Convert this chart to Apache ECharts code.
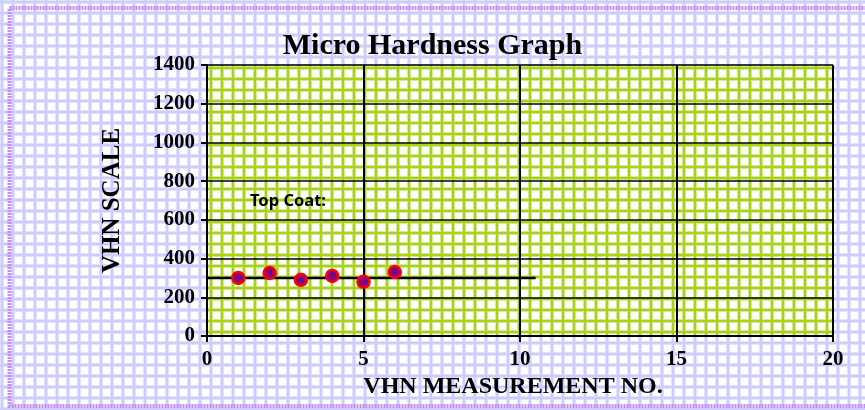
<!DOCTYPE html>
<html>
<head>
<meta charset="utf-8">
<script src="https://cdn.jsdelivr.net/npm/echarts@6/dist/echarts.min.js"></script>
<style>
html,body{margin:0;padding:0;background:#fff;}
#main{width:865px;height:410px;}
</style>
</head>
<body>
<div id="main"></div>
<script>
/* data */
var measureNo = [1, 2, 3, 4, 5, 6];
var vhnValues = [300, 325, 290, 310, 280, 330];
var refLineX = [0, 10.5];
var refLineY = [300, 300];
var xTicks = [0, 20, 5];      // min, max, interval
var yTicks = [0, 1400, 200];

/* background patterns like the excel paper fill */
function makePattern(line, edge){
    var c = document.createElement('canvas');
    c.width = 11; c.height = 11;
    var ctx = c.getContext('2d');
    ctx.fillStyle = '#fff';
    ctx.fillRect(0, 0, 11, 11);
    ctx.fillStyle = edge;
    ctx.fillRect(0, 0, 4, 11);
    ctx.fillRect(0, 0, 11, 4);
    ctx.fillStyle = line;
    ctx.fillRect(1, 0, 2, 11);
    ctx.fillRect(0, 1, 11, 2);
    return c;
}
var paperBg = makePattern('#ccccff', '#e2e2ff');
var plotBg = makePattern('#a6d21c', '#d4ea90');

var scatterData = measureNo.map(function(x, i){ return [x, vhnValues[i]]; });
var lineData = refLineX.map(function(x, i){ return [x, refLineY[i]]; });

var serif = '"Liberation Serif", "Times New Roman", serif';

var option = {
    animation: false,
    backgroundColor: '#fff',
    title: {
        text: 'Micro Hardness Graph',
        left: 'center',
        top: 26,
        textStyle: {
            fontFamily: serif,
            fontWeight: 'bold',
            fontSize: 30,
            color: '#000'
        }
    },
    graphic: [
        {
            type: 'rect',
            z: -10,
            silent: true,
            shape: {x: 0, y: 0, width: 865, height: 410},
            style: {fill: {image: paperBg, repeat: 'repeat'}}
        },
        {
            type: 'rect',
            z: -9,
            silent: true,
            shape: {x: 9.5, y: 8, width: 880, height: 398},
            style: {fill: null, stroke: '#c58cf2', lineWidth: 4, lineDash: [2, 1]}
        },
        {
            type: 'text',
            left: 250,
            top: 193,
            z: 10,
            style: {
                text: 'Top Coat:',
                fontFamily: '"Noto Sans", "Open Sans", sans-serif',
                fontWeight: 'bold',
                fontSize: 16.5,
                fill: '#000'
            }
        }
    ],
    grid: {
        left: 207,
        right: 32,
        top: 65,
        bottom: 74,
        show: true,
        backgroundColor: {image: plotBg, repeat: 'repeat'},
        borderColor: '#8db4e2',
        borderWidth: 1
    },
    xAxis: {
        type: 'value',
        min: xTicks[0],
        max: xTicks[1],
        interval: xTicks[2],
        name: 'VHN MEASUREMENT NO.',
        nameLocation: 'middle',
        nameGap: 32,
        nameTextStyle: {
            fontFamily: serif,
            fontWeight: 'bold',
            fontSize: 24,
            color: '#000',
            padding: [0, 14, 0, 0]
        },
        axisLine: {lineStyle: {color: '#000', width: 2}},
        axisTick: {show: true, length: 6, lineStyle: {color: '#000', width: 2}},
        axisLabel: {
            margin: 13,
            fontFamily: serif,
            fontWeight: 'bold',
            fontSize: 21,
            color: '#000'
        },
        splitLine: {show: true, lineStyle: {color: '#000', width: 2}}
    },
    yAxis: {
        type: 'value',
        min: yTicks[0],
        max: yTicks[1],
        interval: yTicks[2],
        name: 'VHN SCALE',
        nameLocation: 'middle',
        nameGap: 82,
        nameTextStyle: {
            fontFamily: serif,
            fontWeight: 'bold',
            fontSize: 25,
            color: '#000'
        },
        axisLine: {show: true, lineStyle: {color: '#000', width: 2}},
        axisTick: {show: true, length: 6, lineStyle: {color: '#000', width: 2}},
        axisLabel: {
            margin: 12,
            formatter: function(v){ return String(v); },
            fontFamily: serif,
            fontWeight: 'bold',
            fontSize: 21,
            color: '#000'
        },
        splitLine: {show: true, lineStyle: {color: '#000', width: 1.5}}
    },
    series: [
        {
            name: 'ref',
            type: 'line',
            data: lineData,
            showSymbol: false,
            symbol: 'none',
            lineStyle: {color: '#000', width: 2.5},
            z: 3
        },
        {
            name: 'Top Coat',
            type: 'scatter',
            data: scatterData,
            symbolSize: 12,
            itemStyle: {color: '#800080', borderColor: '#ff0000', borderWidth: 2.5, opacity: 1},
            z: 5
        }
    ]
};

var myChart = echarts.init(document.getElementById('main'));
myChart.setOption(option);
</script>
</body>
</html>
